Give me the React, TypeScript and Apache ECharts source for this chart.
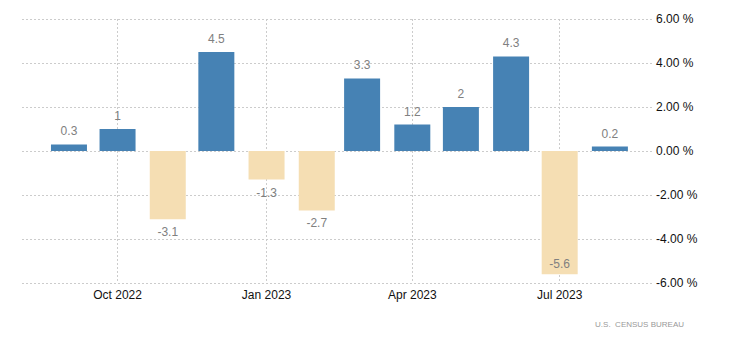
import React, { useEffect, useRef } from "react";
import * as echarts from "echarts";

const months: string[] = [
  "2022-09", "2022-10", "2022-11", "2022-12", "2023-01", "2023-02",
  "2023-03", "2023-04", "2023-05", "2023-06", "2023-07", "2023-08",
];
const values: number[] = [0.3, 1, -3.1, 4.5, -1.3, -2.7, 3.3, 1.2, 2, 4.3, -5.6, 0.2];
const tickMonths: string[] = ["2022-10", "2023-01", "2023-04", "2023-07"];
const axisStart = "2022-08-03";
const axisEnd = "2023-08-27";
const yTicks = { min: -6, max: 6, interval: 2 };
const sourceText = "U.S.  CENSUS BUREAU";

const MONTH_NAMES = ["Jan", "Feb", "Mar", "Apr", "May", "Jun", "Jul", "Aug", "Sep", "Oct", "Nov", "Dec"];

function toTs(s: string): number {
  const [y, m, d] = s.split("-").map(Number);
  return Date.UTC(y, m - 1, d || 1);
}

export default function App() {
  const ref = useRef<HTMLDivElement>(null);
  useEffect(() => {
    if (!ref.current) return;
    document.body.style.margin = "0";
    const chart = echarts.init(ref.current, null, { renderer: "svg" });
    const font = "Liberation Sans";
    const data = months.map((m, i) => {
      const v = values[i];
      const item: any = {
        value: [toTs(m), v],
        itemStyle: { color: v >= 0 ? "#4682B4" : "#F5DEB3" },
        label: { position: v >= 0 ? "top" : "bottom" },
      };
      if (v <= -5) item.label = { position: "insideBottom", distance: 4 };
      return item;
    });
    const tickVals = tickMonths.map(toTs);
    chart.setOption({
      animation: false,
      textStyle: { fontFamily: font },
      grid: { left: 22, right: 78, top: 19, bottom: 67 },
      xAxis: {
        type: "value",
        min: toTs(axisStart),
        max: toTs(axisEnd),
        axisLine: { show: false },
        axisTick: { show: false, customValues: tickVals },
        axisLabel: {
          customValues: tickVals,
          color: "#111",
          fontSize: 12,
          fontFamily: font,
          margin: 6,
          formatter: (val: number) => {
            const d = new Date(val);
            return MONTH_NAMES[d.getUTCMonth()] + " " + d.getUTCFullYear();
          },
        },
        splitLine: { show: true, lineStyle: { color: "#ccc", type: [2, 2], width: 1 } },
      },
      yAxis: {
        type: "value",
        position: "right",
        min: yTicks.min,
        max: yTicks.max,
        interval: yTicks.interval,
        axisLine: { show: false },
        axisTick: { show: false },
        axisLabel: {
          color: "#111",
          fontSize: 12,
          fontFamily: font,
          margin: 4,
          formatter: (v: number) => v.toFixed(2) + " %",
        },
        splitLine: { show: true, lineStyle: { color: "#ccc", type: [2, 2], width: 1 } },
      },
      series: [
        {
          type: "bar",
          barWidth: 36,
          data,
          label: {
            show: true,
            color: "#808080",
            fontSize: 12,
            fontFamily: font,
            distance: 7,
            formatter: (p: any) => String(p.value[1]),
          },
        },
      ],
      graphic: [
        {
          type: "text",
          right: 46,
          top: 320,
          style: {
            text: sourceText,
            fill: "#999",
            fontSize: 8,
            fontFamily: font,
          },
        },
      ],
    });
    return () => chart.dispose();
  }, []);
  return <div ref={ref} style={{ width: 730, height: 350 }} />;
}
